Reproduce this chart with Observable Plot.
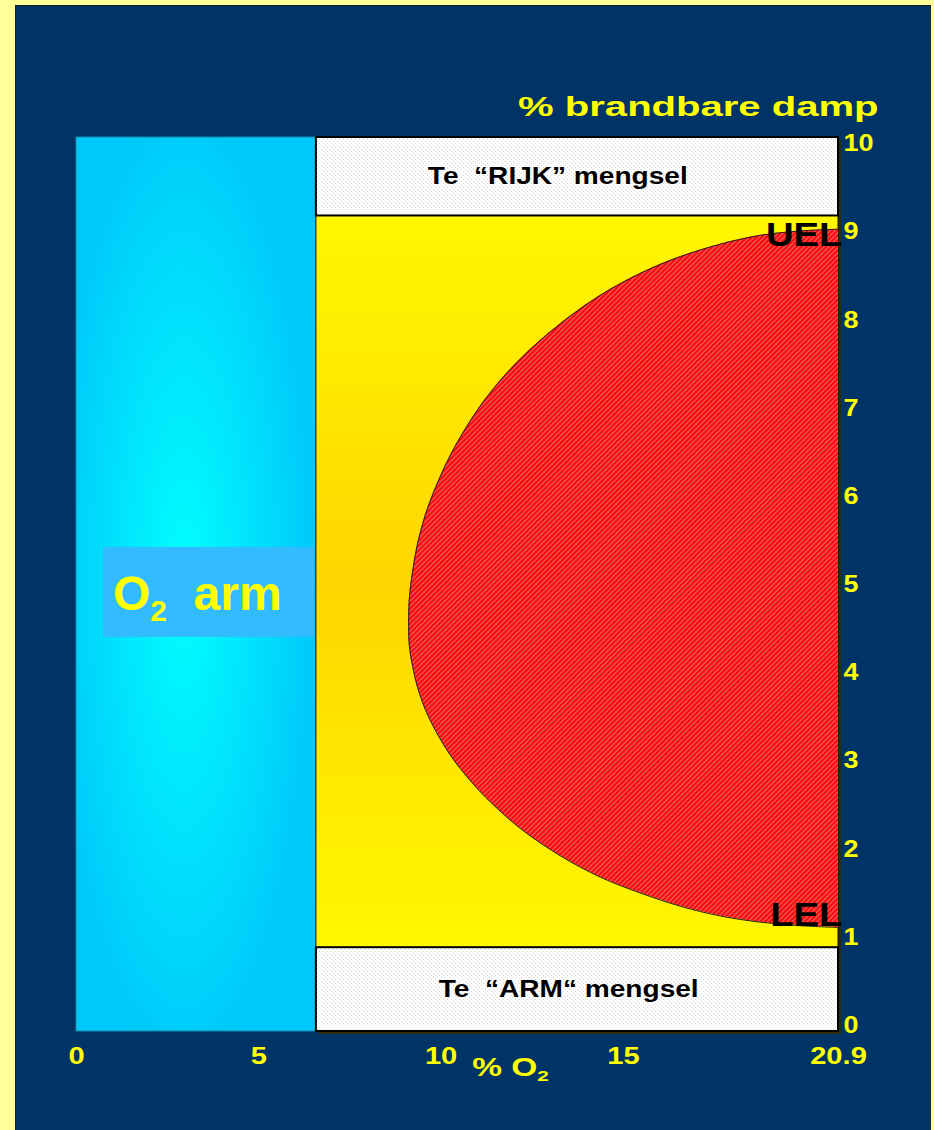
<!DOCTYPE html>
<html>
<head>
<meta charset="utf-8">
<script src="https://cdn.jsdelivr.net/npm/d3@7"></script>
<script src="https://cdn.jsdelivr.net/npm/@observablehq/plot@0.6"></script>
<style>
  html, body { margin: 0; padding: 0; background: #FFFF99; overflow: hidden; width: 934px; height: 1130px; }
  #frame { position: absolute; left: 15px; top: 5px; width: 914px; height: 1124px; background: #003366;
           border-left: 1px solid #1a1a1a; border-top: 1px solid #1a1a1a; border-right: 1px solid #1a2a3a; }
  #chart { position: absolute; left: 0; top: 0; }
</style>
</head>
<body>
<div id="frame"></div>
<div id="chart"></div>
<script>
// ---------- data ----------
const o2Ticks = [0, 5, 10, 15, 20.9];
const dampTicks = [0, 1, 2, 3, 4, 5, 6, 7, 8, 9, 10];
const o2Domain = [0, 20.9];
const dampDomain = [-0.07, 10.07];

// zones (% O2 from/to, % brandbare damp from/to)
const leanO2Zone = [{o2From: 0, o2To: 6.58, dampFrom: -0.07, dampTo: 10.07}];
const mixZone    = [{o2From: 6.58, o2To: 20.9, dampFrom: 0.88, dampTo: 9.18}];
const bandZones  = [
  {o2From: 6.58, o2To: 20.9, dampFrom: 9.18, dampTo: 10.07},   // te rijk
  {o2From: 6.58, o2To: 20.9, dampFrom: -0.07, dampTo: 0.88}    // te arm
];

// explosive envelope (boundary of red zone, UEL -> LEL)
const envelopeO2   = [20.90, 19.86, 18.76, 17.66, 16.57, 15.47, 14.37, 13.28, 12.18, 11.36, 10.81, 10.26, 9.85, 9.57, 9.35, 9.22, 9.13, 9.11,
                      9.13, 9.22, 9.35, 9.57, 9.85, 10.26, 10.81, 11.36, 12.18, 13.28, 14.37, 15.47, 16.57, 17.66, 18.76, 19.86, 20.90];
const envelopeDamp = [9.03, 9.01, 8.96, 8.86, 8.72, 8.53, 8.28, 7.96, 7.56, 7.18, 6.86, 6.47, 6.10, 5.79, 5.45, 5.15, 4.84, 4.54,
                      4.30, 4.07, 3.84, 3.58, 3.34, 3.06, 2.77, 2.53, 2.23, 1.92, 1.68, 1.50, 1.35, 1.24, 1.17, 1.13, 1.11];
const o2Max = 20.9;

// labels
const title = "% brandbare damp";
const xTitle = "% O₂";
const bandLabels = [
  {text: "Te  “RIJK” mengsel", o2: 13.2, damp: 9.63},
  {text: "Te  “ARM“ mengsel",  o2: 13.5, damp: 0.41}
];
const limitLabels = [
  {text: "UEL", o2: 20.9, damp: 8.96},
  {text: "LEL", o2: 20.9, damp: 1.25}
];
const leanLabel = [{text: "O₂  arm", o2: 1.0, damp: 4.89}];
const leanLabelBox = [{o2From: 0.74, o2To: 6.52, dampFrom: 4.40, dampTo: 5.42}];

const envelope = envelopeO2.map((o2, i) => ({o2, damp: envelopeDamp[i]}));

const FONT = "'Liberation Sans', Arial, sans-serif";

// ---------- plot ----------
const svg = Plot.plot({
  width: 934,
  height: 1130,
  marginLeft: 76,
  marginRight: 96,
  marginTop: 137,
  marginBottom: 99,
  style: {
    background: "transparent",
    color: "#FFFF00",
    fontFamily: FONT,
    fontWeight: "bold",
    fontSize: "23.5px",
    overflow: "visible"
  },
  x: {domain: o2Domain},
  y: {domain: dampDomain},
  marks: [
    // shadow behind right column
    Plot.rect(bandZones.concat(mixZone), {
      x1: "o2From", x2: "o2To", y1: "dampFrom", y2: "dampTo", fill: "#2e2e08", dx: 3, dy: 3
    }),
    // O2-arm zone (cyan)
    Plot.rect(leanO2Zone, {
      x1: "o2From", x2: "o2To", y1: "dampFrom", y2: "dampTo",
      fill: "url(#cyanGrad)", stroke: "#168aa6", strokeWidth: 1
    }),
    // mixture zone (yellow)
    Plot.rect(mixZone, {
      x1: "o2From", x2: "o2To", y1: "dampFrom", y2: "dampTo",
      fill: "url(#yellowGrad)", stroke: "#111", strokeWidth: 1
    }),
    // explosive zone (red hatch)
    Plot.areaX(envelope, {
      y: "damp", x1: "o2", x2: () => o2Max, curve: "catmull-rom",
      fill: "url(#hatch)"
    }),
    Plot.line(envelope, {
      x: "o2", y: "damp", curve: "catmull-rom", stroke: "#222", strokeWidth: 1
    }),
    // te rijk / te arm boxes
    Plot.rect(bandZones, {
      x1: "o2From", x2: "o2To", y1: "dampFrom", y2: "dampTo",
      fill: "url(#dots)", stroke: "#000", strokeWidth: 2
    }),
    // O2 arm label box
    Plot.rect(leanLabelBox, {
      x1: "o2From", x2: "o2To", y1: "dampFrom", y2: "dampTo", fill: "#33BBFF"
    }),
    Plot.text(leanLabel, {
      x: "o2", y: "damp", text: "text", textAnchor: "start",
      fill: "#FFFF00", fontSize: 48, fontWeight: "bold"
    }),
    Plot.text(bandLabels, {
      x: "o2", y: "damp", text: "text", fill: "#000", fontSize: 23, fontWeight: "bold"
    }),
    Plot.text(limitLabels, {
      x: "o2", y: "damp", text: "text", textAnchor: "end", dx: 4,
      fill: "#000", fontSize: 33, fontWeight: "bold"
    }),
    // title and x label
    Plot.text([title], {
      frameAnchor: "top-right", textAnchor: "end", dx: 40, dy: -41,
      fill: "#FFFF00", fontSize: 28, fontWeight: "bold"
    }),
    Plot.text([xTitle], {
      frameAnchor: "bottom", dx: 53, dy: 44,
      fill: "#FFFF00", fontSize: 25, fontWeight: "bold"
    }),
    // axes
    Plot.axisY(dampTicks, {
      anchor: "right", tickSize: 0, tickPadding: 5, label: null,
      tickFormat: (d) => String(d)
    }),
    Plot.axisX(o2Ticks, {
      anchor: "bottom", tickSize: 0, tickPadding: 16, label: null,
      tickFormat: (d) => String(d)
    })
  ]
});

// ---------- defs: gradients and patterns ----------
const NS = "http://www.w3.org/2000/svg";
const defs = document.createElementNS(NS, "defs");
defs.innerHTML = `
  <linearGradient id="yellowGrad" x1="0" y1="0" x2="0" y2="1">
    <stop offset="0" stop-color="#FFF800"/>
    <stop offset="0.5" stop-color="#FFD600"/>
    <stop offset="1" stop-color="#FFF800"/>
  </linearGradient>
  <radialGradient id="cyanGrad" cx="0.45" cy="0.5" r="0.55">
    <stop offset="0" stop-color="#00FFFF"/>
    <stop offset="1" stop-color="#00C8FA"/>
  </radialGradient>
  <pattern id="hatch" width="3.5" height="3.5" patternUnits="userSpaceOnUse" patternTransform="rotate(45)">
    <rect width="3.5" height="3.5" fill="#FF0606"/>
    <line x1="1" y1="0" x2="1" y2="3.5" stroke="#E08A8A" stroke-width="0.9"/>
  </pattern>
  <pattern id="dots" width="4" height="4" patternUnits="userSpaceOnUse">
    <rect width="4" height="4" fill="#FFFFFF"/>
    <rect x="1" y="1" width="1" height="1" fill="#D6D6D6"/>
    <rect x="3" y="3" width="1" height="1" fill="#D6D6D6"/>
  </pattern>`;
svg.insertBefore(defs, svg.firstChild);

document.getElementById("chart").appendChild(svg);

// ---------- classify texts for horizontal stretch (slide text is wider) ----------
const stretchList = [];
svg.querySelectorAll("text").forEach((t) => {
  const s = t.textContent;
  const holder = t.closest("[aria-label]");
  const lab = holder ? holder.getAttribute("aria-label") || "" : "";
  let f = null;
  if (s === title) f = 1.43;
  else if (s === xTitle) f = 1.34;
  else if (bandLabels.some((d) => d.text === s)) f = 1.22;
  else if (limitLabels.some((d) => d.text === s)) f = 1.16;
  else if (lab.includes("y-axis")) f = 1.15;
  else if (lab.includes("x-axis")) f = 1.24;
  if (f) stretchList.push([t, f]);
});

// ---------- subscript "₂" as real tspans ----------
svg.querySelectorAll("text").forEach((t) => {
  const s = t.textContent;
  const i = s.indexOf("₂");
  if (i < 0) return;
  const fs = parseFloat(getComputedStyle(t).fontSize) || 24;
  while (t.firstChild) t.removeChild(t.firstChild);
  t.appendChild(document.createTextNode(s.slice(0, i)));
  const sub = document.createElementNS(NS, "tspan");
  sub.setAttribute("font-size", (fs * 0.62).toFixed(1));
  sub.setAttribute("dy", (fs * 0.23).toFixed(1));
  sub.textContent = "2";
  t.appendChild(sub);
  const rest = s.slice(i + 1);
  if (rest.length) {
    const r = document.createElementNS(NS, "tspan");
    r.setAttribute("dy", (-fs * 0.23).toFixed(1));
    r.textContent = rest;
    t.appendChild(r);
  }
});

// ---------- apply stretch via textLength ----------
stretchList.forEach(([t, f]) => {
  const L = t.getComputedTextLength();
  if (L > 0) {
    t.setAttribute("textLength", (L * f).toFixed(1));
    t.setAttribute("lengthAdjust", "spacingAndGlyphs");
  }
});
</script>
</body>
</html>
